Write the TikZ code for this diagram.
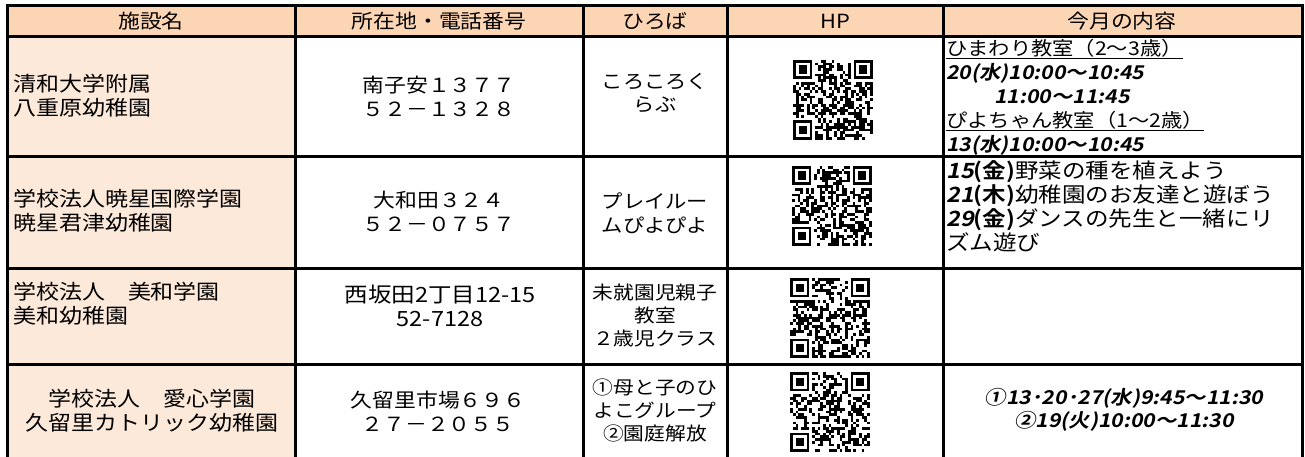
\documentclass[tikz,border=0pt]{standalone}
\usepackage{fontspec}
\setmainfont{Noto Sans CJK JP}[FakeStretch=1.12, BoldFont={Noto Sans CJK JP Bold}]
\newfontfamily\timefont{Noto Sans CJK JP Bold}[FakeStretch=1.12, FakeSlant=0.2]
\definecolor{headfill}{HTML}{FCD5B4}
\definecolor{namefill}{HTML}{FDE9D9}

\begin{document}
\begin{tikzpicture}[x=1pt, y=-1pt, cell/.style={inner sep=0pt, align=center, font=\fontsize{19.5}{24}\selectfont}, namecell/.style={cell, align=left, anchor=west, font=\fontsize{20.5}{24}\selectfont}, newscell/.style={cell, align=left, anchor=north west}, rule/.style={line width=3pt}]

  \useasboundingbox (0,0) rectangle (1305,457);
  \fill[headfill] (7,6) rectangle (1302,37);
  \fill[namefill] (7,37) rectangle (295,457);

  % table rules
  \foreach \gx in {7,295,583,727,943,1302} \draw[rule] (\gx,4.5) -- (\gx,457);
  \foreach \gy in {6,37,157,268,364} \draw[rule] (5.5,\gy) -- (1303.5,\gy);

  % header
  \node[cell] (hname) at (151,21.5) {施設名};
  \node[cell] (haddr) at (439,21.5) {所在地・電話番号};
  \node[cell] (hplay) at (655,21.5) {ひろば};
  \node[cell] (hhp) at (835,21.5) {HP};
  \node[cell] (hnews) at (1122,21.5) {今月の内容};

  % names
  \node[namecell] (nameA) at (13,96) {清和大学附属\\八重原幼稚園};
  \node[namecell] (nameB) at (13,211) {学校法人暁星国際学園\\暁星君津幼稚園};
  \node[namecell] (nameC) at (13,304) {学校法人　美和学園\\美和幼稚園};
  \node[cell, font=\fontsize{20.5}{24}\selectfont] (nameD) at (152,411) {学校法人　愛心学園\\久留里カトリック幼稚園};

  % addresses
  \node[cell] (addrA) at (439,96) {南子安１３７７\\５２－１３２８};
  \node[cell] (addrB) at (439,211) {大和田３２４\\５２－０７５７};
  \node[cell, font=\fontsize{21}{24}\selectfont] (addrC) at (440,306) {西坂田2丁目12-15\\52-7128};
  \node[cell] (addrD) at (438,411) {久留里市場６９６\\２７－２０５５};

  % hiroba
  \node[cell, font=\fontsize{19}{23}\selectfont] (playA) at (655,93) {ころころく\\らぶ};
  \node[cell, font=\fontsize{19}{24}\selectfont] (playB) at (655,213) {プレイルー\\ムぴよぴよ};
  \node[cell, font=\fontsize{18.5}{23}\selectfont] (playC) at (655,316) {未就園児親子\\教室\\２歳児クラス};
  \node[cell, font=\fontsize{18.5}{23}\selectfont] (playD) at (655,410) {①母と子のひ\\よこグループ\\②園庭解放};

  % QR codes
  \foreach \qx/\qy/\qseed in {793/60/11, 792/166/23, 790/278/37, 790/372/41} {
    \begin{scope}[shift={(\qx,\qy)}, x=2.75pt, y=-2.75pt]
      \pgfmathsetseed{\qseed}
      \foreach \i in {0,...,28} {
        \foreach \j in {0,...,28} {
          \pgfmathrandominteger{\qbit}{0}{1}
          \ifnum\qbit=1 \fill (\i,\j) rectangle ++(1,1); \fi
        }
      }
      \foreach \fa/\fb/\sa/\sb in {0/0/0/0, 22/0/21/0, 0/22/0/21} {
        \fill[white] (\sa,\sb) rectangle ++(8,8);
        \fill (\fa,\fb) rectangle ++(7,7);
        \fill[white] (\fa+1,\fb+1) rectangle ++(5,5);
        \fill (\fa+2,\fb+2) rectangle ++(3,3);
      }
    \end{scope}
  }

  % news
  \node[newscell, font=\fontsize{19}{24}\selectfont] (newsA) at (946,39) {\underline{ひまわり教室（2～3歳）}\\{\timefont 20(水)10:00～10:45}\\\hspace*{48pt}{\timefont 11:00～11:45}\\\underline{ぴよちゃん教室（1～2歳）}\\{\timefont 13(水)10:00～10:45}};
  \node[newscell, font=\fontsize{21}{24}\selectfont] (newsB) at (946,160) {{\timefont 15}\textbf{(金)}野菜の種を植えよう\\{\timefont 21}\textbf{(木)}幼稚園のお友達と遊ぼう\\{\timefont 29}\textbf{(金)}ダンスの先生と一緒にリ\\ズム遊び};
  \node[cell, font=\fontsize{19}{23}\selectfont\timefont] (newsD) at (1124,410) {①13･20･27(水)9:45～11:30\\②19(火)10:00～11:30};

\end{tikzpicture}
\end{document}
